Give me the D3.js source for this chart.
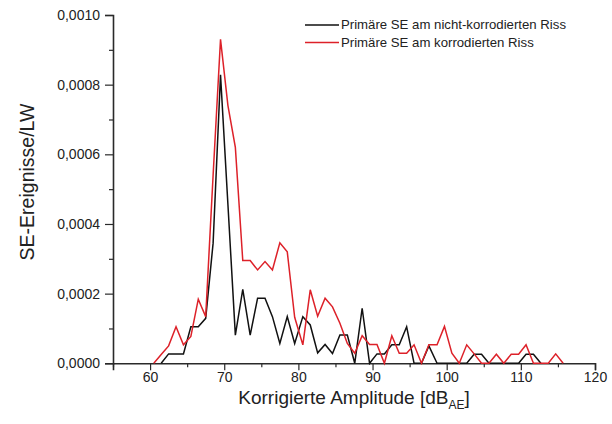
<!DOCTYPE html>
<html>
<head>
<meta charset="utf-8">
<script src="https://cdn.jsdelivr.net/npm/d3@7"></script>
<style>
  html, body { margin: 0; padding: 0; background: #fff; }
  svg { display: block; font-family: "Liberation Sans", Arial, sans-serif; }
</style>
</head>
<body>
<svg id="chart" width="612" height="424"></svg>
<script>
// Amplitude positions (dB_AE) of the plotted points
const amplitude = [
  60.5, 61.5, 62.5, 63.5, 64.5, 65.5, 66.5, 67.5, 68.5, 69.5,
  70.5, 71.5, 72.5, 73.5, 74.5, 75.5, 76.5, 77.5, 78.5, 79.5,
  80.6, 81.6, 82.6, 83.6, 84.6, 85.6, 86.6, 87.6, 88.6, 89.6,
  90.6, 91.6, 92.6, 93.6, 94.6, 95.6, 96.6, 97.6, 98.7, 99.7,
  100.7, 101.7, 102.7, 103.7, 104.7, 105.7, 106.7, 107.7, 108.7, 109.7,
  110.7, 111.7, 112.7, 113.7, 114.7, 115.7
];
// Primäre SE am nicht-korrodierten Riss (black)
const nichtKorrodiert = [
  null, 0, 0.000027, 0.000027, 0.000027, 0.000105, 0.000105, 0.000129, 0.000345, 0.000828,
  0.000455, 0.000081, 0.000212, 0.000081, 0.000187, 0.000187, 0.000134, 0.000057, 0.000134, 0.000057,
  0.000134, 0.000110, 0.000030, 0.000054, 0.000028, 0.000081, 0.000081, 0, 0.000158, 0,
  0.000027, 0.000027, 0.000053, 0.000053, 0.000105, 0, 0, 0.000050, 0, 0,
  0, 0, 0, 0.000026, 0.000026, 0, 0, 0, 0, 0,
  0.000026, 0.000026, 0, null, null, null
];
// Primäre SE am korrodierten Riss (red)
const korrodiert = [
  0, 0.000025, 0.000050, 0.000105, 0.000053, 0.000077, 0.000184, 0.000134, 0.000540, 0.000930,
  0.000740, 0.000620, 0.000295, 0.000295, 0.000268, 0.000292, 0.000268, 0.000346, 0.000320, 0.000132,
  0.000053, 0.000211, 0.000135, 0.000187, 0.000162, 0.000115, 0.000057, 0.000029, 0.000079, 0.000054,
  0.000054, 0, 0.000079, 0.000029, 0.000029, 0.000053, 0, 0.000053, 0.000053, 0.000106,
  0.000029, 0, 0.000053, 0.000027, 0, 0, 0.000026, 0, 0.000026, 0.000026,
  0.000053, 0, 0, 0, 0.000027, 0
];
const xTicks = [60, 70, 80, 90, 100, 110, 120];
const xMinorTicks = [55, 65, 75, 85, 95, 105, 115];
const yTicks = [0, 0.0002, 0.0004, 0.0006, 0.0008, 0.0010];
const yMinorTicks = [0.0001, 0.0003, 0.0005, 0.0007, 0.0009];
const seriesNames = ["Primäre SE am nicht-korrodierten Riss", "Primäre SE am korrodierten Riss"];
const seriesColors = ["#111111", "#dd2129"];

const svg = d3.select("#chart");
const x = d3.scaleLinear().domain([55, 120]).range([113, 595]);
const y = d3.scaleLinear().domain([0, 0.0010]).range([363.3, 15]);

const de = d3.formatLocale({decimal: ",", thousands: ".", grouping: [3], currency: ["", " €"]});
const fmtY = de.format(".4f");
const axisColor = "#2a2a2a";
const textColor = "#222";

// X axis
const gx = svg.append("g").attr("transform", `translate(0,${y(0)})`);
gx.call(d3.axisBottom(x).tickValues(xTicks).tickSize(7).tickPadding(1.5).tickFormat(d3.format("d")));
gx.append("g").call(d3.axisBottom(x).tickValues(xMinorTicks).tickSize(4).tickFormat(""))
  .select(".domain").remove();
// Y axis
const gy = svg.append("g").attr("transform", `translate(${x(55)},0)`);
gy.call(d3.axisLeft(y).tickValues(yTicks).tickSize(8).tickPadding(5).tickFormat(fmtY));
gy.append("g").call(d3.axisLeft(y).tickValues(yMinorTicks).tickSize(4).tickFormat(""))
  .select(".domain").remove();

svg.selectAll(".domain").attr("stroke", axisColor).attr("stroke-width", 1.6);
svg.selectAll(".tick line").attr("stroke", axisColor).attr("stroke-width", 1.2);
svg.selectAll(".tick text").attr("fill", textColor).style("font-size", "14px")
  .style("font-family", '"Liberation Sans", Arial, sans-serif');

// Lines
const data = [nichtKorrodiert, korrodiert];
const line = d3.line()
  .defined(d => d[1] !== null)
  .x(d => x(d[0]))
  .y(d => y(d[1]));

[0, 1].forEach(i => {
  const pts = amplitude.map((a, j) => [a, data[i][j]]);
  svg.append("path")
    .datum(pts)
    .attr("fill", "none")
    .attr("stroke", seriesColors[i])
    .attr("stroke-width", 1.5)
    .attr("stroke-linejoin", "miter")
    .attr("d", line);
});

// Legend
const legend = svg.append("g");
seriesNames.forEach((name, i) => {
  const yy = 25 + i * 17.5;
  legend.append("line")
    .attr("x1", 305).attr("x2", 339).attr("y1", yy).attr("y2", yy)
    .attr("stroke", seriesColors[i]).attr("stroke-width", 1.3);
  legend.append("text")
    .attr("x", 341).attr("y", yy + 4)
    .attr("fill", textColor)
    .style("font-size", "13.2px")
    .text(name);
});

// Axis titles
const xt = svg.append("text")
  .attr("x", 354).attr("y", 404)
  .attr("text-anchor", "middle")
  .attr("fill", textColor)
  .style("font-size", "19px");
xt.append("tspan").text("Korrigierte Amplitude [dB");
xt.append("tspan").attr("dy", 5).style("font-size", "12px").text("AE");
xt.append("tspan").attr("dy", -5).text("]");

svg.append("text")
  .attr("transform", "translate(33.5,182) rotate(-90)")
  .attr("text-anchor", "middle")
  .attr("fill", textColor)
  .style("font-size", "19.5px")
  .text("SE-Ereignisse/LW");
</script>
</body>
</html>
